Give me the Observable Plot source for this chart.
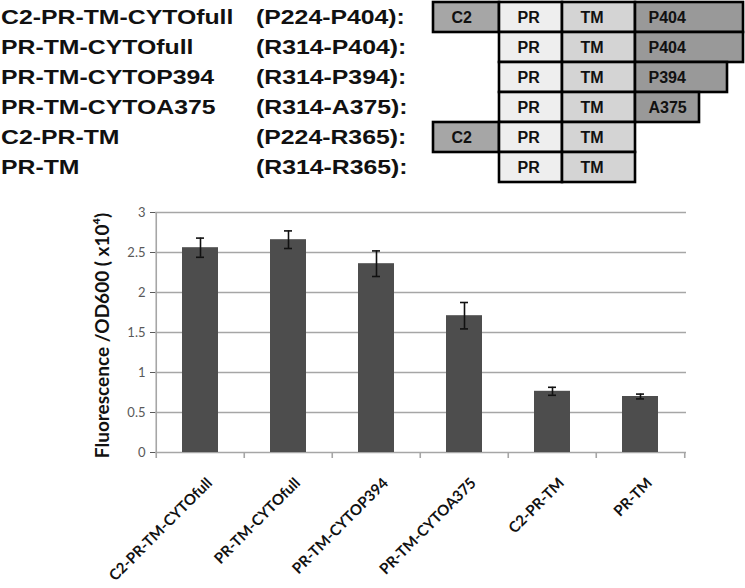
<!DOCTYPE html>
<html>
<head>
<meta charset="utf-8">
<script src="https://cdn.jsdelivr.net/npm/d3@7"></script>
<script src="https://cdn.jsdelivr.net/npm/@observablehq/plot@0.6"></script>
<style>
  body { margin: 0; background: #fff; }
  #wrap { position: relative; width: 745px; height: 588px; overflow: hidden; }
  #top { position: absolute; left: 0; top: 0; width: 745px; height: 195px; }
  .lbl { position: absolute; height: 30px; line-height: 30px; font-family: "Liberation Sans", Arial, sans-serif;
         font-weight: bold; font-size: 20px; color: #111; white-space: nowrap;
         transform: scaleX(1.24); transform-origin: left center; }
  #diagram { position: absolute; left: 420px; top: 0; }
  #bars { position: absolute; left: 0; top: 195px; }
</style>
</head>
<body>
<div id="wrap">
  <div id="top"><div id="diagram"></div></div>
  <div id="bars"></div>
</div>
<script>
// ---- data ----
const constructs = ["C2-PR-TM-CYTOfull", "PR-TM-CYTOfull", "PR-TM-CYTOP394", "PR-TM-CYTOA375", "C2-PR-TM", "PR-TM"];
const ranges = ["(P224-P404):", "(R314-P404):", "(R314-P394):", "(R314-A375):", "(P224-R365):", "(R314-R365):"];
const hasC2 = [true, false, false, false, true, false];
const cytoLabels = ["P404", "P404", "P394", "A375", null, null];
// schematic domain extents (diagram units)
const coreDomains = ["C2", "PR", "TM"];
const coreStart = [0, 66, 129];
const coreEnd = [66, 129, 202];
const cytoEnd = [310, 310, 294, 266, null, null];
const domainFill = {C2: "#a6a6a6", PR: "#eeeeee", TM: "#d4d4d4", CYTO: "#999999"};

const fluorescence = [2.56, 2.66, 2.36, 1.71, 0.765, 0.70];
const errors = [0.12, 0.11, 0.16, 0.165, 0.05, 0.03];
const yTicks = [0, 0.5, 1, 1.5, 2, 2.5, 3];
const yLabel = "Fluorescence /OD600 ( x10⁴)";

// ---- top text list ----
const topDiv = document.getElementById("top");
constructs.forEach((c, i) => {
  const a = document.createElement("div");
  a.className = "lbl"; a.style.left = "1px"; a.style.top = (2 + 30 * i) + "px"; a.textContent = c;
  topDiv.appendChild(a);
  const b = document.createElement("div");
  b.className = "lbl"; b.style.left = "256px"; b.style.top = (2 + 30 * i) + "px"; b.textContent = ranges[i];
  topDiv.appendChild(b);
});

// ---- domain diagram ----
const segs = [];
constructs.forEach((c, i) => {
  coreDomains.forEach((d, k) => {
    if (d === "C2" && !hasC2[i]) return;
    segs.push({row: c, label: d, x1: coreStart[k], x2: coreEnd[k], fill: domainFill[d], core: true});
  });
  if (cytoLabels[i]) segs.push({row: c, label: cytoLabels[i], x1: coreEnd[2], x2: cytoEnd[i], fill: domainFill.CYTO, core: false});
});

const diagram = Plot.plot({
  width: 325, height: 184,
  marginLeft: 13, marginRight: 2, marginTop: 2, marginBottom: 2,
  x: {domain: [0, 310], axis: null},
  y: {domain: constructs, axis: null, padding: 0},
  style: {fontFamily: "'Liberation Sans', Arial, sans-serif", background: "transparent"},
  marks: [
    Plot.barX(segs, {x1: "x1", x2: "x2", y: "row", fill: "fill", stroke: "#000", strokeWidth: 2.6}),
    Plot.text(segs.filter(d => d.core), {x: "x1", y: "row", text: "label", textAnchor: "start", dx: 18,
      fontSize: 16, fontWeight: "bold", fill: "#111"}),
    Plot.text(segs.filter(d => !d.core), {x: "x1", y: "row", text: "label", textAnchor: "start", dx: 13,
      fontSize: 16, fontWeight: "bold", fill: "#111"})
  ]
});
document.getElementById("diagram").appendChild(diagram);

// ---- bar chart ----
const rows = constructs.map((c, i) => ({name: c, v: fluorescence[i], lo: fluorescence[i] - errors[i], hi: fluorescence[i] + errors[i]}));
const W = 745, ML = 155, MR = 59;
const step = (W - ML - MR) / constructs.length;
const gray = "#a6a6a6";

const bars = Plot.plot({
  width: W, height: 393,
  marginTop: 17, marginBottom: 136, marginLeft: ML, marginRight: MR,
  x: {domain: constructs, paddingInner: 0.59, paddingOuter: 0.295, axis: null},
  y: {domain: [0, 3], ticks: yTicks, tickFormat: d => String(d), tickSize: 5, tickPadding: 5, label: null},
  style: {fontFamily: "Lato, 'Open Sans', sans-serif", fontSize: "13px", color: "#595959", background: "transparent"},
  marks: [
    Plot.ruleY(yTicks, {stroke: gray, strokeWidth: 1.6}),
    Plot.ruleX([constructs[0]], {x: d => d, dx: -step / 2, y1: () => 0, y2: () => 3, stroke: gray, strokeWidth: 1.6}),
    Plot.ruleX(constructs, {x: d => d, dx: -step / 2, y1: () => 0, y2: () => -0.075, stroke: gray, strokeWidth: 1.6}),
    Plot.ruleX([constructs[constructs.length - 1]], {x: d => d, dx: step / 2, y1: () => 0, y2: () => -0.075, stroke: gray, strokeWidth: 1.6}),
    Plot.barY(rows, {x: "name", y: "v", fill: "#4d4d4d"}),
    Plot.ruleX(rows, {x: "name", y1: "lo", y2: "hi", stroke: "#111", strokeWidth: 1.6}),
    Plot.tickY(rows, {x: "name", y: "lo", stroke: "#111", strokeWidth: 1.6, insetLeft: 14, insetRight: 14}),
    Plot.tickY(rows, {x: "name", y: "hi", stroke: "#111", strokeWidth: 1.6, insetLeft: 14, insetRight: 14}),
    Plot.text(rows, {x: "name", y: () => 0, text: "name", rotate: -45, textAnchor: "end", lineAnchor: "top",
      dx: 5, dy: 24, fontSize: 15, fontWeight: "bold", fill: "#111"}),
    Plot.text([yLabel], {frameAnchor: "left", textAnchor: "middle", rotate: -90, dx: -53, dy: 3, fontSize: 19, fontWeight: "bold", fill: "#111"})
  ]
});
document.getElementById("bars").appendChild(bars);
</script>
</body>
</html>
